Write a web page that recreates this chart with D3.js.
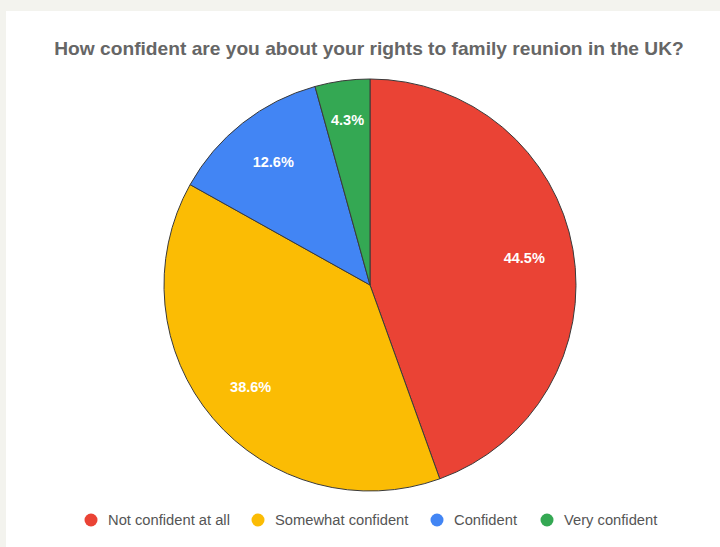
<!DOCTYPE html>
<html>
<head>
<meta charset="utf-8">
<script src="https://cdn.jsdelivr.net/npm/d3@7"></script>
<style>
  html, body { margin: 0; padding: 0; background: #f3f3ee; }
  svg { display: block; }
</style>
</head>
<body>
<svg id="chart" width="720" height="547"></svg>
<script>
const title = "How confident are you about your rights to family reunion in the UK?";
const categories = ["Not confident at all", "Somewhat confident", "Confident", "Very confident"];
const values = [44.5, 38.6, 12.6, 4.3];
const colors = ["#ea4335", "#fbbc04", "#4285f4", "#34a853"];
const legendX = [91, 258, 437, 547];

const svg = d3.select("#chart");
const W = 720, H = 547;
const FONT = "Liberation Sans, Arial, sans-serif";

// white card
svg.append("rect").attr("x", 6).attr("y", 11).attr("width", W).attr("height", H)
  .attr("fill", "#ffffff");

// title, sized to span the card width
const t = svg.append("text")
  .attr("x", 369).attr("y", 55)
  .attr("text-anchor", "middle")
  .attr("font-family", FONT)
  .attr("font-weight", "bold")
  .attr("font-size", 17)
  .attr("fill", "#666666")
  .text(title);
const tw = t.node().getComputedTextLength();
t.attr("font-size", 17 * 630 / tw);

// pie
const cx = 370, cy = 285, r = 206;
const pie = d3.pie().sort(null).value(d => d)(values);
const arc = d3.arc().innerRadius(0).outerRadius(r);
// thin slices carry their label a little further out
const labelR = d => (d.endAngle - d.startAngle < 0.5 ? 0.81 : 0.76) * r;

const g = svg.append("g").attr("transform", `translate(${cx},${cy})`);
g.selectAll("path.slice").data(pie).join("path")
  .attr("class", "slice")
  .attr("d", arc)
  .attr("fill", (d, i) => colors[i])
  .attr("stroke", "#3a3a3a")
  .attr("stroke-width", 1);

g.selectAll("text.pct").data(pie).join("text")
  .attr("class", "pct")
  .attr("transform", d => {
    const rr = labelR(d);
    return `translate(${d3.arc().innerRadius(rr).outerRadius(rr).centroid(d)})`;
  })
  .attr("text-anchor", "middle")
  .attr("dy", "0.36em")
  .attr("font-family", FONT)
  .attr("font-weight", "bold")
  .attr("font-size", 14.5)
  .attr("fill", "#ffffff")
  .text(d => d.data.toFixed(1) + "%");

// legend
const lg = svg.append("g");
let legendSize = 13;
categories.forEach((c, i) => {
  lg.append("circle").attr("cx", legendX[i]).attr("cy", 520).attr("r", 6.5)
    .attr("fill", colors[i]);
  const lt = lg.append("text").attr("x", legendX[i] + 17).attr("y", 520).attr("dy", "0.35em")
    .attr("font-family", FONT)
    .attr("font-size", 13)
    .attr("fill", "#555555")
    .text(c);
  if (i === 0) legendSize = 13 * 122 / lt.node().getComputedTextLength();
});
lg.selectAll("text").attr("font-size", legendSize);
</script>
</body>
</html>
